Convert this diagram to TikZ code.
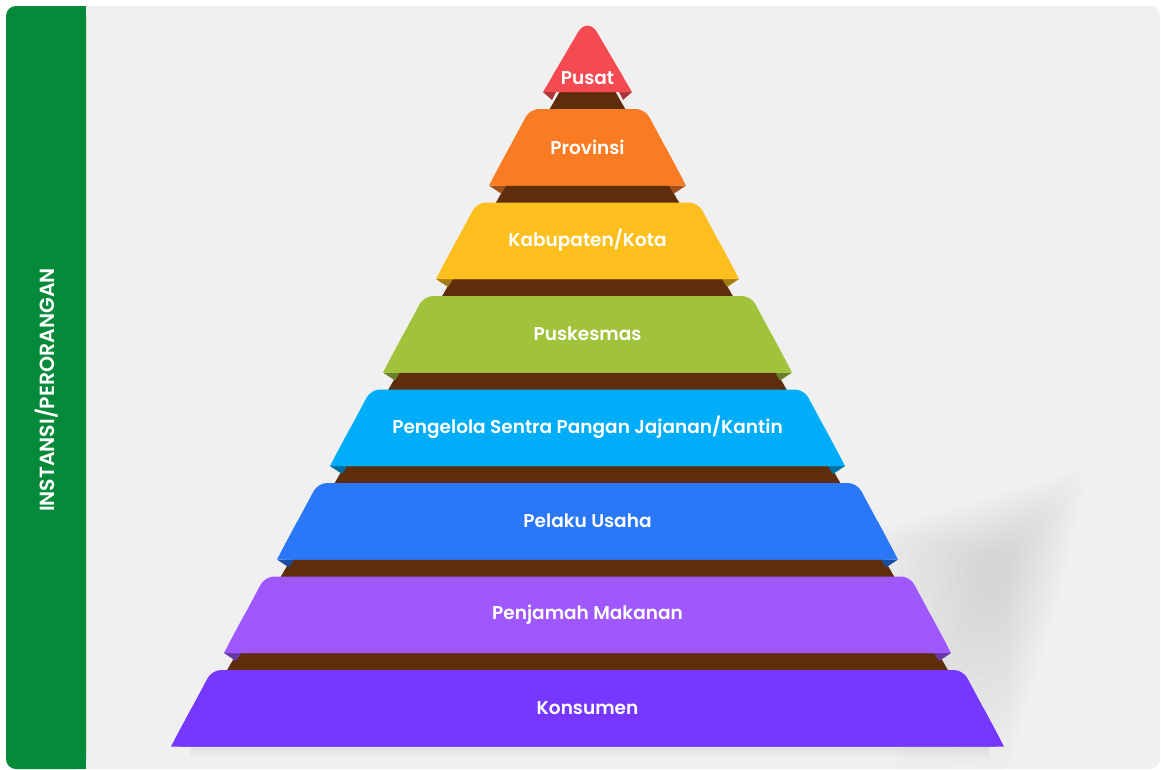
\documentclass[tikz,border=0pt]{standalone}
\usepackage{fontspec}
\setmainfont{Poppins}[BoldFont={Poppins SemiBold}]
\usetikzlibrary{positioning, calc}
\definecolor{panelbg}{HTML}{F0F0F0}
\definecolor{sidegreen}{HTML}{048A39}
\definecolor{corebrown}{HTML}{5E2D0C}
\definecolor{lvlPusat}{HTML}{F44B53}
\definecolor{lvlProv}{HTML}{F97B24}
\definecolor{lvlKab}{HTML}{FCBF1E}
\definecolor{lvlPusk}{HTML}{A1C23B}
\definecolor{lvlSentra}{HTML}{00ADF8}
\definecolor{lvlUsaha}{HTML}{2A78F8}
\definecolor{lvlJamah}{HTML}{9E58FE}
\definecolor{lvlKons}{HTML}{7638FE}

\begin{document}
\begin{tikzpicture}[x=1pt, y=-1pt,
        lvltext/.style={text=white, font=\fontsize{18.5}{22}\selectfont\bfseries, inner sep=0pt},
        sidetext/.style={text=white, font=\fontsize{20.5}{24}\selectfont\bfseries, rotate=90, inner sep=0pt}]
    \def\cx{587.5}
    \useasboundingbox (0,0) rectangle (1161,769);
    \fill[white] (0,0) rectangle (1161,769);

    % panel and side bar
    \fill[panelbg, rounded corners=10] (6,6) rectangle (1160,769);
    \fill[sidegreen, rounded corners=10] (6,6) rectangle (86,769);
    \fill[sidegreen] (40,6) rectangle (86,769);
    \node[sidetext] (side) at (46.5,390) {INSTANSI/PERORANGAN};

    % soft shadow behind the lower steps (stacked shrinking copies)
    \foreach \s in {1.2,1.12,...,0.2}{
        \begin{scope}[shift={(1000,560)}, scale=\s, shift={(-1000,-560)}]
            \fill[black, fill opacity=0.009, rounded corners=20]
                (880,540) -- (1075,482) -- (1050,590) -- (1005,740) -- (915,745) -- cycle;
        \end{scope}
    }
    \foreach \w in {16,12,8,4}
        \draw[black, draw opacity=0.012, line width=\w, line join=round]
            (190,749) -- (990,749);

    % brown core of the pyramid
    \fill[corebrown] (\cx-25.7,88) -- (\cx+25.7,88) -- (\cx+377.6,700) -- (\cx-377.6,700) -- cycle;

    % top
    \fill[lvlPusat!70!black] (543,92) -- ++(13,0) -- ++(-4,8) -- cycle;
    \fill[lvlPusat!70!black] (632,92) -- ++(-13,0) -- ++(4,8) -- cycle;
    \fill[lvlPusat, rounded corners=19] (543,92) -- (\cx,16) -- (632,92) -- cycle;
    \fill[lvlPusat] (561,62) -- (614,62) -- (632,92) -- (543,92) -- cycle;
    \node[lvltext] (pusat) at (\cx,78) {Pusat};

    % the seven steps
    \foreach \i/\col/\nm/\txt in {
            1/lvlProv/prov/Provinsi,
            2/lvlKab/kab/{Kabupaten/Kota},
            3/lvlPusk/pusk/Puskesmas,
            4/lvlSentra/sentra/{Pengelola Sentra Pangan Jajanan/Kantin},
            5/lvlUsaha/usaha/Pelaku Usaha,
            6/lvlJamah/jamah/Penjamah Makanan,
            7/lvlKons/kons/Konsumen}{
        \pgfmathsetmacro\ytop{109+93.5*(\i-1)}
        \pgfmathsetmacro\ybot{\ytop+76.5}
        \pgfmathsetmacro\ymid{\ytop+38}
        \pgfmathsetmacro\wtop{57.5+53*(\i-1)}
        \pgfmathsetmacro\wbot{\wtop+41}
        \pgfmathsetmacro\wmid{\wtop+20.4}
        % folded corners, none under the base
        \ifnum\i<7
            \fill[\col!65!black] (\cx-\wbot,\ybot) -- ++(17,0) -- ++(-5,8) -- cycle;
            \fill[\col!65!black] (\cx+\wbot,\ybot) -- ++(-17,0) -- ++(5,8) -- cycle;
        \fi
        % band
        \fill[\col, rounded corners=9] (\cx-\wbot,\ybot) -- (\cx-\wtop,\ytop)
            -- (\cx+\wtop,\ytop) -- (\cx+\wbot,\ybot) -- cycle;
        \fill[\col] (\cx-\wmid,\ymid) -- (\cx+\wmid,\ymid) -- (\cx+\wbot,\ybot) -- (\cx-\wbot,\ybot) -- cycle;
        \node[lvltext] (\nm) at (\cx,\ymid) {\txt};
    }
\end{tikzpicture}
\end{document}
